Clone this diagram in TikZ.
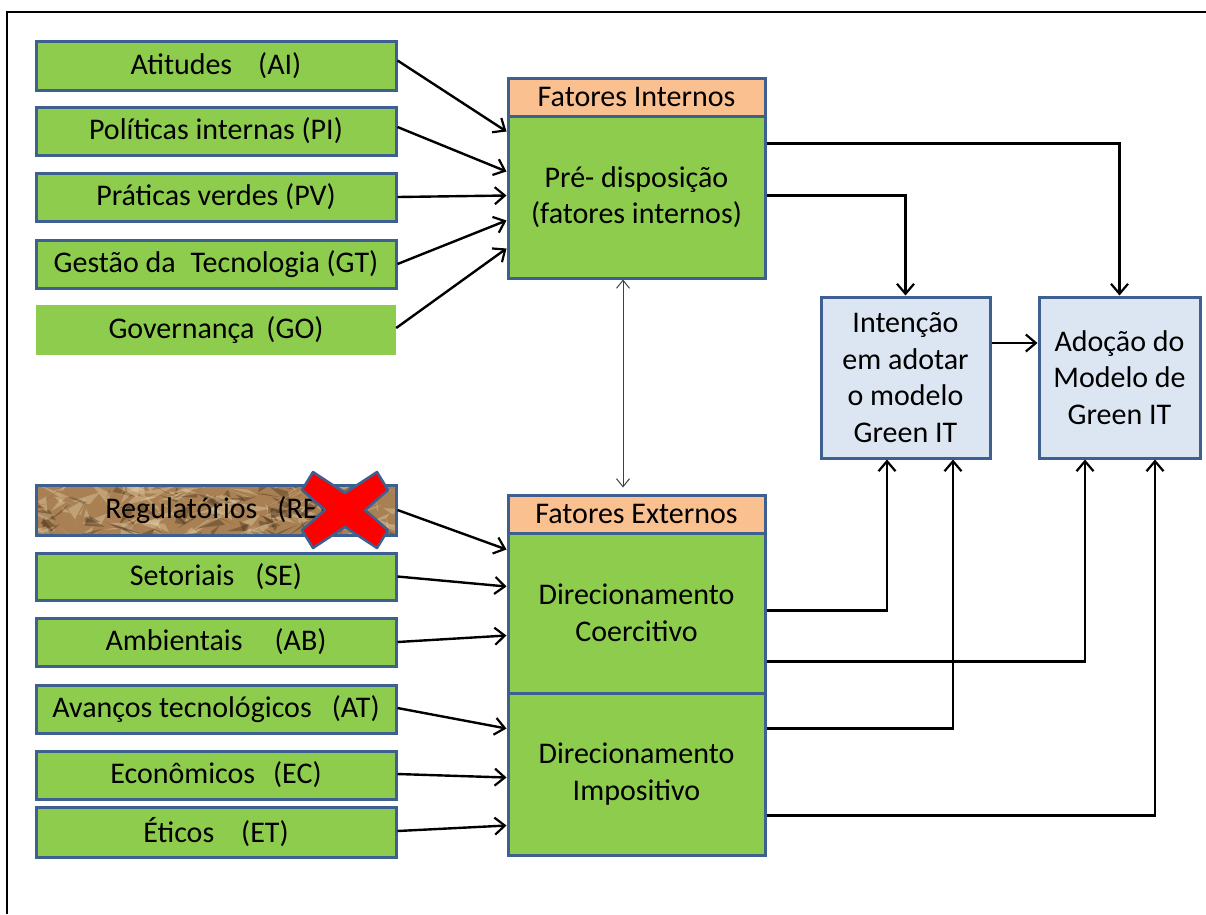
\documentclass[tikz,border=0pt]{standalone}
\usepackage{fontspec}
\setmainfont{Carlito}
\usetikzlibrary{arrows.meta,calc}

\definecolor{grn}{RGB}{142,204,78}
\definecolor{bdr}{RGB}{62,96,145}
\definecolor{peach}{RGB}{250,192,144}
\definecolor{pale}{RGB}{220,230,242}
\definecolor{tanbase}{RGB}{168,128,84}
\definecolor{tanlight}{RGB}{230,208,168}
\definecolor{tandark}{RGB}{70,46,22}

\tikzset{
  txt/.style={font=\fontsize{30}{36.5}\selectfont, text=black, inner sep=0pt, align=center},
  factor/.style={txt, draw=bdr, fill=grn, line width=3pt, minimum width=360pt},
  plainfactor/.style={txt, fill=grn, minimum width=360pt},
  header/.style={txt, draw=bdr, fill=peach, line width=3pt, minimum width=257pt, minimum height=38pt},
  block/.style={txt, draw=bdr, fill=grn, line width=3pt, minimum width=257pt},
  outcome/.style={txt, draw=bdr, fill=pale, line width=3pt, minimum height=161pt},
  link/.style={line width=2.4pt, draw=black, -{Straight Barb[length=10pt,width=17pt,line width=2.2pt]}},
  elbow/.style={link},
  mutual/.style={line width=1pt, draw=black!75, {Straight Barb[length=8pt,width=13pt]}-{Straight Barb[length=8pt,width=13pt]}},
  crossmark/.style={fill=red, draw=bdr, line width=2.5pt, line join=round}
}

\begin{document}
\begin{tikzpicture}[x=1pt,y=-1pt]
\useasboundingbox (0,0) rectangle (1206,914);

% outer frame
\draw[line width=2.5pt] (7,914) -- (7,12) -- (1206,12);

% internal factors
\node[factor, minimum height=49pt] (ai) at (216,65.5) {Atitudes\hspace{26pt}(AI)};
\node[factor, minimum height=48pt] (pi) at (216,131) {Políticas internas (PI)};
\node[factor, minimum height=48pt] (pv) at (216,197) {Práticas verdes (PV)};
\node[factor, minimum height=48pt] (gt) at (216,264) {Gestão da\hspace{15pt}Tecnologia (GT)};
\node[plainfactor, minimum height=50pt] (go) at (216,330) {Governança\hspace{12pt}(GO)};

% external factors (the regulatory one on crumpled paper)
\node[factor, fill=tanbase, minimum height=50pt,
  path picture={
    \pgfmathsetseed{23}
    \foreach \k in {1,...,260}{
      \pgfmathsetmacro\px{-190+380*rnd}
      \pgfmathsetmacro\py{-30+60*rnd}
      \pgfmathsetmacro\ax{22*rand}
      \pgfmathsetmacro\ay{12*rand}
      \pgfmathsetmacro\bx{22*rand}
      \pgfmathsetmacro\by{12*rand}
      \pgfmathtruncatemacro\tone{mod(\k,5)}
      \ifnum\tone<2
        \fill[tandark, opacity=0.4] ($(path picture bounding box.center)+(\px,\py)$) -- ++(\ax,\ay) -- ++(\bx,\by) -- cycle;
      \else
        \fill[tanlight, opacity=0.4] ($(path picture bounding box.center)+(\px,\py)$) -- ++(\ax,\ay) -- ++(\bx,\by) -- cycle;
      \fi
    }
  }] (re) at (216,510) {Regulatórios\hspace{20pt}(RE)};
\node[factor, minimum height=47pt] (se) at (216,576.5) {Setoriais\hspace{21pt}(SE)};
\node[factor, minimum height=48pt] (ab) at (216,642) {Ambientais\hspace{32pt}(AB)};
\node[factor, minimum height=48pt] (at) at (216,709) {Avanços tecnológicos\hspace{20pt}(AT)};
\node[factor, minimum height=48pt] (ec) at (216,775) {Econômicos\hspace{18pt}(EC)};
\node[factor, minimum height=50pt] (et) at (216,832) {Éticos\hspace{27pt}(ET)};

% red cross over the regulatory factor
\coordinate (xmark) at (345,510);
\draw[crossmark, shift={(xmark)}]
  (-32,-38) -- (0,-17) -- (32,-38) -- (43,-20) -- (20,0) -- (43,20) --
  (32,38) -- (0,17) -- (-32,38) -- (-43,20) -- (-20,0) -- (-43,-20) -- cycle;

% central blocks
\node[header] (inh) at (636.5,97) {Fatores Internos};
\node[block, minimum height=162pt] (pre) at (636.5,197) {Pré- disposição\\(fatores internos)};
\node[header] (exh) at (636.5,514) {Fatores Externos};
\node[block, minimum height=160pt] (coer) at (636.5,613) {Direcionamento\\Coercitivo};
\node[block, minimum height=162pt] (impo) at (636.5,774) {Direcionamento\\Impositivo};

% outcomes
\node[outcome, minimum width=169pt] (int) at (905.5,377.5) {Intenção\\em adotar\\o modelo\\Green IT};
\node[outcome, minimum width=161pt] (ado) at (1119.5,377.5) {Adoção do\\Modelo de\\Green IT};

% internal factors into pre-disposition
\draw[link] ([yshift=5pt]ai.east) -- ([yshift=-17pt]pre.north west);
\draw[link] ([yshift=4pt]pi.east) -- ([yshift=-57pt]pre.north west);
\draw[link] (pv.east) -- ([yshift=-81pt]pre.north west);
\draw[link] (gt.east) -- ([yshift=-106pt]pre.north west);
\draw[link] ([yshift=2pt]go.east) -- ([yshift=-134pt]pre.north west);

% external factors into the two drivers
\draw[link] (re.east) -- ([yshift=-18pt]coer.north west);
\draw[link] (se.east) -- ([yshift=-55pt]coer.north west);
\draw[link] (ab.east) -- ([yshift=-104pt]coer.north west);
\draw[link] ([yshift=1pt]at.east) -- ([yshift=-37pt]impo.north west);
\draw[link] ([yshift=1pt]ec.east) -- ([yshift=-86pt]impo.north west);
\draw[link] ([yshift=1pt]et.east) -- ([yshift=-134pt]impo.north west);

% mutual influence between internal and external factors
\draw[mutual] ([xshift=-13.5pt]pre.south) -- ([xshift=-13.5pt,yshift=6pt]exh.north);

% pre-disposition to intention and adoption
\draw[elbow] ([yshift=-29pt]pre.north east) -| (ado.north);
\draw[elbow] ([yshift=-81pt]pre.north east) -| (int.north);

% intention to adoption
\draw[link] (int.east |- 0,343) -- (ado.west |- 0,343);

% drivers to intention and adoption
\draw[elbow] ([yshift=-79pt]coer.north east) -| ([xshift=-18.5pt]int.south);
\draw[elbow] ([yshift=-130pt]coer.north east) -| ([xshift=-34.5pt]ado.south);
\draw[elbow] ([yshift=-37pt]impo.north east) -| ([xshift=47.5pt]int.south);
\draw[elbow] ([yshift=-124pt]impo.north east) -| ([xshift=35.5pt]ado.south);
\end{tikzpicture}
\end{document}
